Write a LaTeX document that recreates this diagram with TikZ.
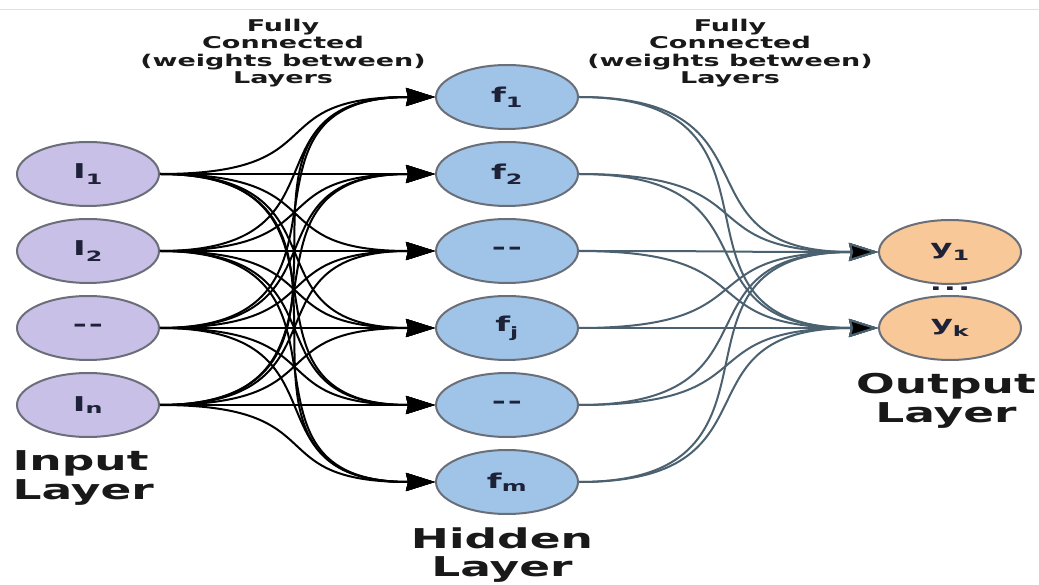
\documentclass[tikz,border=0pt]{standalone}
\usepackage{fontspec}
\setmainfont{DejaVu Sans}
\usepackage{graphicx}
\usetikzlibrary{shapes.geometric, positioning, arrows.meta}
\definecolor{inpfill}{RGB}{201,192,232}
\definecolor{hidfill}{RGB}{160,196,232}
\definecolor{outfill}{RGB}{248,200,152}
\definecolor{rimgray}{RGB}{105,110,120}
\definecolor{wiregray}{RGB}{75,97,112}
\definecolor{inktext}{RGB}{30,34,56}
\newcommand{\squash}[1]{\scalebox{1}[0.6]{#1}}

\begin{document}
\begin{tikzpicture}[x=1pt,y=1pt,>={Stealth[length=29pt,width=18pt,inset=2pt]},node distance=77pt,on grid]
\tikzstyle{unit}=[ellipse,draw=rimgray,line width=2pt,minimum width=142pt,minimum height=64pt,inner sep=0pt,text=inktext,font=\fontsize{34}{38}\selectfont\bfseries]
\tikzstyle{inunit}=[unit,fill=inpfill]
\tikzstyle{hidunit}=[unit,fill=hidfill]
\tikzstyle{outunit}=[unit,fill=outfill]
\tikzstyle{caption}=[font=\fontsize{27}{29}\selectfont\bfseries,align=center,yscale=0.6,text=black!90]
\tikzstyle{layername}=[font=\fontsize{45.5}{48}\selectfont\bfseries,yscale=0.6,text=black!90]

  \useasboundingbox (0,0) rectangle (1039,584);
  \draw[black!12, line width=1.2pt] (0,574.5) -- (1039,574.5);

  %--- hidden layer ---
  \node[hidunit] (h1) at (507,487) {\squash{f\textsubscript{1}}};
  \node[hidunit] (h2) [below=of h1] {\squash{f\textsubscript{2}}};
  \node[hidunit] (h3) [below=of h2] {\squash{-\kern2pt-}};
  \node[hidunit] (h4) [below=of h3] {\squash{f\textsubscript{j}}};
  \node[hidunit] (h5) [below=of h4] {\squash{-\kern2pt-}};
  \node[hidunit] (h6) [below=of h5] {\squash{f\textsubscript{m}}};

  %--- input layer ---
  \node[inunit] (i1) at (88,410) {\squash{I\textsubscript{1}}};
  \node[inunit] (i2) [below=of i1] {\squash{I\textsubscript{2}}};
  \node[inunit] (i3) [below=of i2] {\squash{-\kern2pt-}};
  \node[inunit] (i4) [below=of i3] {\squash{I\textsubscript{n}}};

  %--- output layer ---
  \node[outunit] (o1) at (950,332) {\squash{y\textsubscript{1}}};
  \node[outunit] (o2) [below=76pt of o1] {\squash{y\textsubscript{k}}};
  \node[font=\fontsize{32}{36}\selectfont\bfseries,text=inktext] (odots) at (950,295) {\squash{.\kern2pt.\kern2pt.}};

  %--- captions ---
  \node[caption] (cap1) at (283,531) {Fully\\Connected\\(weights between)\\Layers};
  \node[caption] (cap2) at (730,531) {Fully\\Connected\\(weights between)\\Layers};
  \node[layername,align=left,anchor=west] (inlabel) at (9,106) {Input\\Layer};
  \node[layername,align=center] (hidlabel) at (502,29) {Hidden\\Layer};
  \node[layername,align=center] (outlabel) at (946,183) {Output\\Layer};

  %--- weights ---
  \foreach \a in {1,...,4}
    \foreach \b in {1,...,6}
      \path[->,line width=2pt] (i\a) edge[out=0,in=180,looseness=1.6] (h\b);
  \foreach \b in {1,...,6}
    \foreach \c in {1,2}
      \path[->,draw=wiregray,line width=2pt] (h\b) edge[out=0,in=180,looseness=1.6] (o\c);
\end{tikzpicture}
\end{document}
